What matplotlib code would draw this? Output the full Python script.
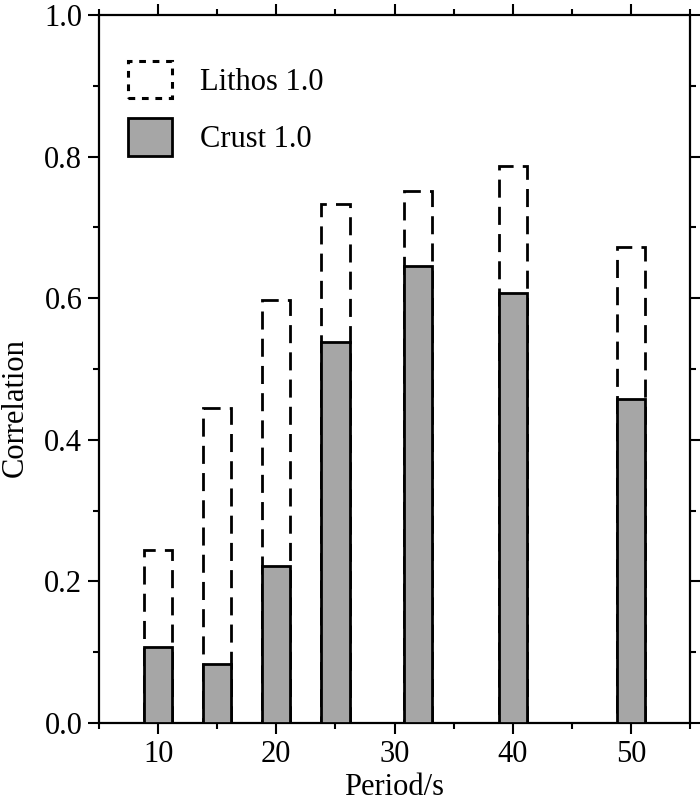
import numpy as np
import matplotlib.pyplot as plt
from matplotlib.patches import Patch
from matplotlib.ticker import MultipleLocator

# values
periods = [10, 15, 20, 25, 32, 40, 50]
lithos = [0.245, 0.445, 0.598, 0.733, 0.752, 0.787, 0.673]
crust = [0.107, 0.083, 0.222, 0.538, 0.645, 0.607, 0.457]

plt.rcParams['font.family'] = ['Liberation Serif', 'DejaVu Serif']
fs = 22

fig = plt.figure(figsize=(7.0, 8.02), dpi=100)
ax = fig.add_axes([99 / 700, 1 - 723 / 802, 591 / 700, 708 / 802])

width = 2.4
ax.bar(periods, lithos, width=width, facecolor='none', edgecolor='black',
       linewidth=2.0, linestyle=(0, (6.5, 3.3)), zorder=2)
ax.bar(periods, crust, width=width, facecolor='#a6a6a6', edgecolor='black',
       linewidth=2.0, zorder=3)

ax.set_xlim(5, 55)
ax.set_ylim(0, 1.0)
ax.xaxis.set_major_locator(MultipleLocator(10))
ax.xaxis.set_minor_locator(MultipleLocator(5))
ax.yaxis.set_major_locator(MultipleLocator(0.2))
ax.yaxis.set_minor_locator(MultipleLocator(0.1))
ax.yaxis.set_major_formatter(plt.FormatStrFormatter('%.1f'))
ax.tick_params(which='both', direction='out', top=True, right=True,
               width=1.5, labelsize=fs)
ax.tick_params(which='major', length=8, pad=4)
ax.tick_params(which='minor', length=4)
for s in ax.spines.values():
    s.set_linewidth(1.6)

ax.set_xlabel('Period/s', fontsize=fs, labelpad=3)
ax.set_ylabel('Correlation', fontsize=fs)
ax.yaxis.set_label_coords(-0.118, 0.445)

handles = [Patch(facecolor='none', edgecolor='black', linewidth=2.2,
                 linestyle=(0, (2.2, 2.2)), label='Lithos 1.0'),
           Patch(facecolor='#a6a6a6', edgecolor='black', linewidth=2.0,
                 label='Crust 1.0')]
ax.legend(handles=handles, loc='upper left', frameon=False, fontsize=fs,
          handlelength=1.45, handleheight=1.5, handletextpad=0.9,
          labelspacing=0.65, borderaxespad=0, bbox_to_anchor=(0.028, 0.952))

fig.savefig('out.png', dpi=100)
